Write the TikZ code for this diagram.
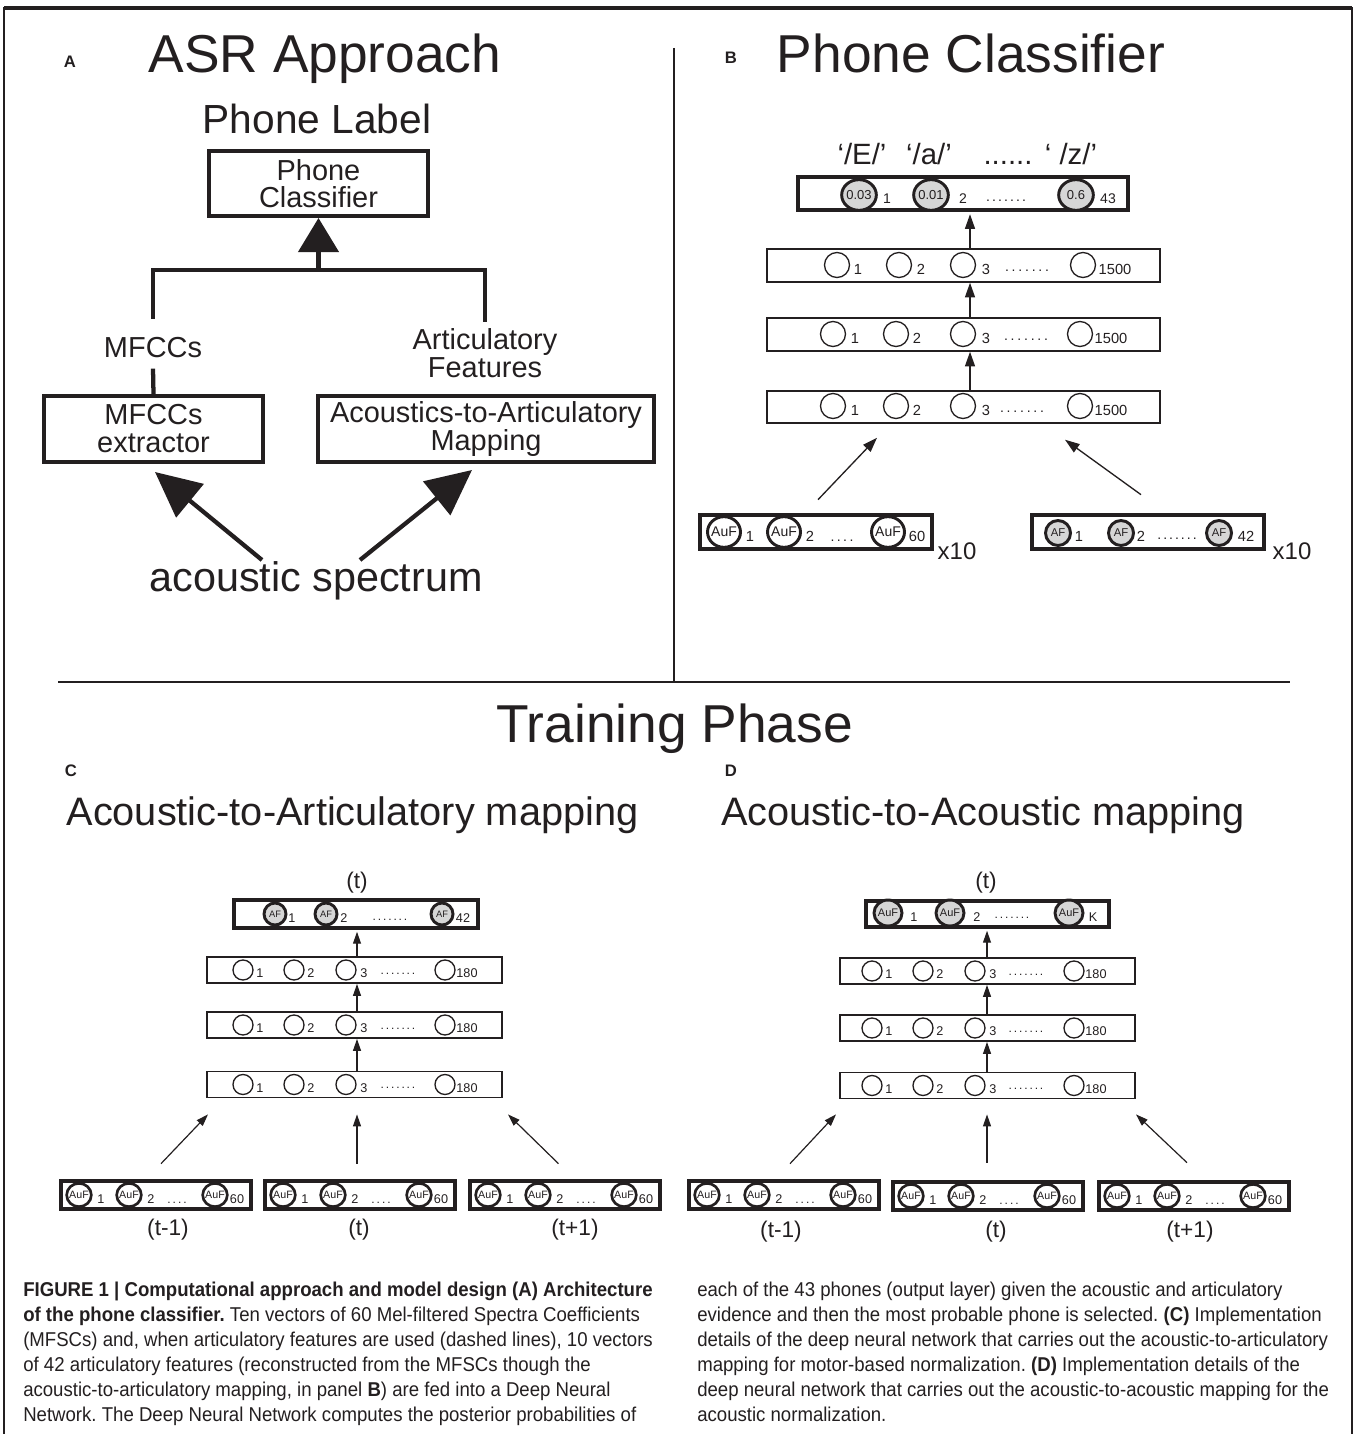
\documentclass[tikz,border=0pt]{standalone}
\usepackage{fontspec}
\setmainfont{Liberation Sans}
\newfontfamily\capfont[FakeStretch=0.93]{Liberation Sans}
\usetikzlibrary{arrows.meta,shapes.geometric,calc}
\definecolor{ink}{RGB}{35,31,32}
\definecolor{nfill}{RGB}{214,214,214}
\newcommand\myfs[2]{\fontsize{#1pt}{#2pt}\selectfont}
\newcommand\zb[1]{\makebox[0pt]{#1}}
\newcommand\sevendots[1]{.\kern#1.\kern#1.\kern#1.\kern#1.\kern#1.\kern#1.}
\newcommand\fourdots[1]{.\kern#1.\kern#1.\kern#1.}
\frenchspacing
\begin{document}
\begin{tikzpicture}[x=0.75pt,y=-0.75pt,color=ink,text=ink,
 box/.style={draw,inner sep=0pt,align=center},
 layer/.style={draw,line width=1.1pt,inner sep=0pt},
 wneu/.style={circle,draw,line width=1pt,inner sep=0pt},
 gneu/.style={ellipse,draw,fill=nfill,inner sep=0pt},
 ineu/.style={ellipse,draw,fill=white,inner sep=0pt},
 lb/.style={inner sep=0pt,anchor=base},
 conn/.style={line width=3.2pt},
 bigarrow/.style={line width=3.2pt,-{Triangle[length=34pt,width=32pt]}},
 sarrowB/.style={line width=1pt,-{Triangle[length=11pt,width=7.5pt]}},
 sarrowC/.style={line width=0.9pt,-{Triangle[length=9pt,width=6pt]}},
 capline/.style={inner sep=0pt,anchor=base west,font=\capfont\myfs{15}{18}},
]
\useasboundingbox (0,0) rectangle (1356,1434);
% frame
\coordinate (fbl) at (4,1434); \coordinate (ftl) at (4,8);
\coordinate (ftr) at (1352,8); \coordinate (fbr) at (1352,1434);
\draw[line width=1.5pt] (fbl) -- (ftl) -- (ftr) -- (fbr);
\draw[line width=2.4pt] (ftl) -- (ftr);
% dividers
\coordinate (vtop) at (674,48); \coordinate (vbot) at (674,682);
\coordinate (hleft) at (58,682); \coordinate (hright) at (1290,682);
\draw[line width=1.5pt] (vtop) -- (vbot);
\draw[line width=1.5pt] (hleft) -- (hright);

% ================= Panel A
\node[lb,font=\bfseries\myfs{12.5}{15}] (labA) at (70,68) {A};
\node[lb,font=\myfs{40}{48}] (titA) at (325,73) {ASR Approach};
\node[lb,font=\myfs{30.5}{36}] (plabel) at (317,134) {Phone Label};
\node[box,line width=3pt,minimum width=164.25pt,minimum height=48.75pt,font=\myfs{21.7}{20.3}] (pc) at (318.5,183.5) {Phone\\Classifier};
\coordinate (jl) at (153,270); \coordinate (jr) at (485,270);
\draw[line width=3.2pt,-{Triangle[length=25.5pt,width=30pt]}] (pc.south |- jl) -- (pc.south);
\node[lb,font=\myfs{21.7}{21}] (mfl) at (153,357) {MFCCs};
\node[inner sep=0pt,align=center,font=\myfs{21.7}{21}] (afl) at (485,353) {Articulatory\\Features};
\draw[conn] ($(mfl.north)+(0,-18)$) -- (mfl.north |- jl) -- (afl.north |- jl) -- ($(afl.north)+(0,-6)$);
\node[box,line width=3pt,minimum width=164.25pt,minimum height=49.5pt,font=\myfs{21.7}{21}] (mfx) at (153.5,429) {MFCCs\\extractor};
\node[box,line width=3pt,minimum width=252pt,minimum height=49.5pt,font=\myfs{21.7}{21}] (aam) at (486,429) {Acoustics-to-Articulatory\\Mapping};
\draw[conn] ($(mfl.south)+(0,11)$) -- (mfx.north);
\node[lb,font=\myfs{31}{36}] (as) at (316,591) {acoustic spectrum};
\draw[bigarrow] ($(as.base)+(-54,-31)$) -- ($(mfx.south)+(1.5,8)$);
\draw[bigarrow] ($(as.base)+(44,-31)$) -- ($(aam.south)+(-14,6)$);

% ================= Panel B
\node[lb,font=\bfseries\myfs{12.5}{15}] (labB) at (731,64) {B};
\node[lb,font=\myfs{40}{48}] (titB) at (971,73) {Phone Classifier};
\node[lb,font=\myfs{22}{26}] (phE) at (862,165) {‘/E/’};
\node[lb,font=\myfs{22}{26}] (pha) at (929,165) {‘/a/’};
\node[lb,font=\myfs{22}{26}] (phd) at (1008,165) {......};
\node[lb,font=\myfs{22}{26}] (phz) at (1071,165) {‘ /z/’};
\node[box,line width=3.3pt,minimum width=247.5pt,minimum height=24.75pt] (ob) at (963,193.5) {};
\foreach \x/\v/\lx/\t [count=\i] in {859/0.03/887/1, 931/0.01/963/2, 1076/0.6/1108/43}{
  \node[gneu,line width=2.2pt,minimum width=26pt,minimum height=23pt,font=\myfs{9.75}{11}] (obn\i) at (\x,195) {\zb{\v}};
  \node[lb,font=\myfs{10.5}{12}] (obl\i) at (\lx,204) {\t};
}
\node[lb,font=\myfs{10.5}{12}] (obd) at (1006,201) {\sevendots{1.6pt}};
% hidden layers B
\node[layer,minimum width=294.75pt,minimum height=24.75pt] (hB3) at (963.5,265.5) {};
\node[layer,minimum width=294.75pt,minimum height=24.75pt] (hB2) at (963.5,334.5) {};
\node[layer,minimum width=294.75pt,minimum height=24pt] (hB1) at (963.5,407) {};
\foreach \x/\lx/\t [count=\i] in {837/858/1, 899/921/2, 963/986/3, 1083/1115/1500}{
  \node[wneu,minimum size=18.75pt] (hB3n\i) at (\x,265) {};
  \node[lb,font=\myfs{11}{12}] (hB3l\i) at (\lx,274) {\t};
}
\node[lb,font=\myfs{10.5}{12}] (hB3d) at (1027,271) {\sevendots{2.1pt}};
\foreach \x/\lx/\t [count=\i] in {833/855/1, 896/917/2, 963/986/3, 1080/1111/1500}{
  \node[wneu,minimum size=18.75pt] (hB2n\i) at (\x,334) {};
  \node[lb,font=\myfs{11}{12}] (hB2l\i) at (\lx,343) {\t};
  \node[wneu,minimum size=18.75pt] (hB1n\i) at (\x,406) {};
  \node[lb,font=\myfs{11}{12}] (hB1l\i) at (\lx,415) {\t};
}
\node[lb,font=\myfs{10.5}{12}] (hB2d) at (1026,340) {\sevendots{2.1pt}};
\node[lb,font=\myfs{10.5}{12}] (hB1d) at (1022,412) {\sevendots{2.1pt}};
\coordinate (axB) at (970,0);
\draw[sarrowB,shorten >=1.5pt] (hB3.north -| axB) -- (ob.south -| axB);
\draw[sarrowB] (hB2.north -| axB) -- (hB3.south -| axB);
\draw[sarrowB] (hB1.north -| axB) -- (hB2.south -| axB);
% inputs B
\node[box,line width=3.5pt,minimum width=174pt,minimum height=25.5pt] (iBl) at (816,532) {};
\foreach \x/\lx/\t [count=\i] in {724/750/1, 784/810/2, 888/917/60}{
  \node[ineu,line width=2.2pt,minimum width=24.75pt,minimum height=23pt,font=\myfs{10.5}{12}] (iBln\i) at (\x,532) {\zb{AuF}};
  \node[lb,font=\myfs{11}{12}] (iBll\i) at (\lx,541) {\t};
}
\node[lb,font=\myfs{10.5}{12}] (iBld) at (842,541) {\fourdots{1.8pt}};
\node[lb,font=\myfs{18}{21}] (x10l) at (957,559) {x10};
\node[box,line width=3.5pt,minimum width=174pt,minimum height=25.5pt] (iBr) at (1148,532) {};
\foreach \x/\lx/\t [count=\i] in {1058/1079/1, 1121/1141/2, 1219/1246/42}{
  \node[gneu,line width=2.2pt,minimum width=18.75pt,minimum height=18.75pt,font=\myfs{8.5}{10}] (iBrn\i) at (\x,533) {\zb{AF}};
  \node[lb,font=\myfs{11}{12}] (iBrl\i) at (\lx,541) {\t};
}
\node[lb,font=\myfs{10.5}{12}] (iBrd) at (1177,539) {\sevendots{1.5pt}};
\node[lb,font=\myfs{18}{21}] (x10r) at (1292,559) {x10};
\draw[sarrowB] ($(iBl.north)+(2,-13)$) -- ($(hB1.south)+(-86.5,14)$);
\draw[sarrowB] ($(iBr.north)+(-7,-18)$) -- ($(hB1.south)+(101.5,16)$);

% ================= Training phase
\node[lb,font=\myfs{40}{48}] (titT) at (674.5,742) {Training Phase};
\node[lb,font=\bfseries\myfs{12.5}{15}] (labC) at (71,776) {C};
\node[lb,font=\bfseries\myfs{12.5}{15}] (labD) at (731,776) {D};
\node[lb,font=\myfs{29.8}{34}] (subC) at (352.5,825) {Acoustic-to-Articulatory mapping};
\node[lb,font=\myfs{29.8}{34}] (subD) at (983,825) {Acoustic-to-Acoustic mapping};

% ----- Panel C network
\node[lb,font=\myfs{17}{20}] (tC) at (357,888) {(t)};
\node[box,line width=3pt,minimum width=183pt,minimum height=21pt] (ocC) at (356,914) {};
\foreach \x/\lx/\t [count=\i] in {275/292/1, 326/344/2, 442/463/42}{
  \node[gneu,line width=2.2pt,minimum width=16.5pt,minimum height=16.5pt,font=\myfs{7}{8}] (ocCn\i) at (\x,914) {\zb{AF}};
  \node[lb,font=\myfs{9.5}{10}] (ocCl\i) at (\lx,922) {\t};
}
\node[lb,font=\myfs{9}{10}] (ocCd) at (390,920) {\sevendots{1.4pt}};
\foreach \nm/\cy in {hC3/970, hC2/1025, hC1/1084.5}{
  \node[layer,minimum width=221.25pt,minimum height=19.75pt] (\nm) at (354.5,\cy) {};
  \foreach \x/\lx/\t [count=\i] in {243/260/1, 294/311/2, 346/364/3, 445/467/180}{
    \node[wneu,minimum size=15pt] (\nm n\i) at (\x,\cy) {};
    \node[lb,font=\myfs{9.5}{10}] (\nm l\i) at (\lx,\cy+7.5) {\t};
  }
  \node[lb,font=\myfs{9}{10}] (\nm d) at (398,\cy+4) {\sevendots{1.4pt}};
}
\coordinate (axC) at (357,0);
\draw[sarrowC,shorten >=1.3pt] (hC3.north -| axC) -- (ocC.south -| axC);
\draw[sarrowC] (hC2.north -| axC) -- (hC3.south -| axC);
\draw[sarrowC] (hC1.north -| axC) -- (hC2.south -| axC);

% ----- Panel D network
\node[lb,font=\myfs{17}{20}] (tD) at (986,888) {(t)};
\node[box,line width=3pt,minimum width=182.25pt,minimum height=19.5pt] (ocD) at (987.5,914) {};
\foreach \x/\lx/\t [count=\i] in {888/914/1, 950/977/2, 1069/1093/K}{
  \node[gneu,line width=2.2pt,minimum width=21pt,minimum height=19.5pt,font=\myfs{8.25}{9}] (ocDn\i) at (\x,913) {\zb{AuF}};
  \node[lb,font=\myfs{9.5}{10}] (ocDl\i) at (\lx,921) {\t};
}
\node[lb,font=\myfs{9}{10}] (ocDd) at (1012,918) {\sevendots{1.4pt}};
\foreach \nm/\cy in {hD3/971, hD2/1028, hD1/1085.5}{
  \node[layer,minimum width=221.25pt,minimum height=19.75pt] (\nm) at (987.5,\cy) {};
  \foreach \x/\lx/\t [count=\i] in {872/889/1, 923/940/2, 975/993/3, 1074/1096/180}{
    \node[wneu,minimum size=15pt] (\nm n\i) at (\x,\cy) {};
    \node[lb,font=\myfs{9.5}{10}] (\nm l\i) at (\lx,\cy+7.5) {\t};
  }
  \node[lb,font=\myfs{9}{10}] (\nm d) at (1026,\cy+4) {\sevendots{1.4pt}};
}
\coordinate (axD) at (987,0);
\draw[sarrowC,shorten >=1.3pt] (hD3.north -| axD) -- (ocD.south -| axD);
\draw[sarrowC] (hD2.north -| axD) -- (hD3.south -| axD);
\draw[sarrowC] (hD1.north -| axD) -- (hD2.south -| axD);

% ----- inputs C and D
\foreach \nm/\L/\Y in {iC1/61/1195, iC2/265/1195, iC3/470/1195, iD1/689/1195, iD2/893/1196, iD3/1099/1196}{
  \node[box,line width=3.5pt,minimum width=142.5pt,minimum height=21pt] (\nm) at (\L+95,\Y) {};
  \foreach \dx/\lx/\t [count=\i] in {18/40/1, 68/90/2, 154/176/60}{
    \node[ineu,line width=2pt,minimum width=18.5pt,minimum height=17.5pt,font=\myfs{8}{9}] (\nm n\i) at (\L+\dx,\Y) {\zb{AuF}};
    \node[lb,font=\myfs{9.5}{10}] (\nm l\i) at (\L+\lx,\Y+8) {\t};
  }
  \node[lb,font=\myfs{9}{10}] (\nm d) at (\L+116,\Y+8) {\fourdots{1.5pt}};
}
\node[lb,font=\myfs{17}{20}] (tC1) at (168,1235) {(t-1)};
\node[lb,font=\myfs{17}{20}] (tC2) at (359,1235) {(t)};
\node[lb,font=\myfs{17}{20}] (tC3) at (575,1235) {(t+1)};
\node[lb,font=\myfs{17}{20}] (tD1) at (781,1237) {(t-1)};
\node[lb,font=\myfs{17}{20}] (tD2) at (996,1237) {(t)};
\node[lb,font=\myfs{17}{20}] (tD3) at (1190,1237) {(t+1)};
\draw[sarrowC] ($(iC1.north)+(5,-15)$) -- ($(hC1.south)+(-146.5,16)$);
\draw[sarrowC] ($(iC2.north)+(-3,-15)$) -- ($(hC1.south)+(2.5,16)$);
\draw[sarrowC] ($(iC3.north)+(-6.5,-15)$) -- ($(hC1.south)+(153.5,16)$);
\draw[sarrowC] ($(iD1.north)+(6,-15)$) -- ($(hD1.south)+(-151.5,15)$);
\draw[sarrowC] ($(iD2.north)+(-1,-17)$) -- ($(hD1.south)+(-0.5,15)$);
\draw[sarrowC] ($(iD3.north)+(-7,-17)$) -- ($(hD1.south)+(148.5,15)$);

% ================= caption
\node[capline] (cl1) at (23,1296) {\textbf{FIGURE 1 | Computational approach and model design (A) Architecture}};
\node[capline] (cl2) at (23,1321) {\textbf{of the phone classifier.} Ten vectors of 60 Mel-filtered Spectra Coefficients};
\node[capline] (cl3) at (23,1346) {(MFSCs) and, when articulatory features are used (dashed lines), 10 vectors};
\node[capline] (cl4) at (23,1371) {of 42 articulatory features (reconstructed from the MFSCs though the};
\node[capline] (cl5) at (23,1396) {acoustic-to-articulatory mapping, in panel \textbf{B}) are fed into a Deep Neural};
\node[capline] (cl6) at (23,1421) {Network. The Deep Neural Network computes the posterior probabilities of};
\node[capline] (cr1) at (697,1296) {each of the 43 phones (output layer) given the acoustic and articulatory};
\node[capline] (cr2) at (697,1321) {evidence and then the most probable phone is selected. \textbf{(C)} Implementation};
\node[capline] (cr3) at (697,1346) {details of the deep neural network that carries out the acoustic-to-articulatory};
\node[capline] (cr4) at (697,1371) {mapping for motor-based normalization. \textbf{(D)} Implementation details of the};
\node[capline] (cr5) at (697,1396) {deep neural network that carries out the acoustic-to-acoustic mapping for the};
\node[capline] (cr6) at (697,1421) {acoustic normalization.};
\end{tikzpicture}
\end{document}
